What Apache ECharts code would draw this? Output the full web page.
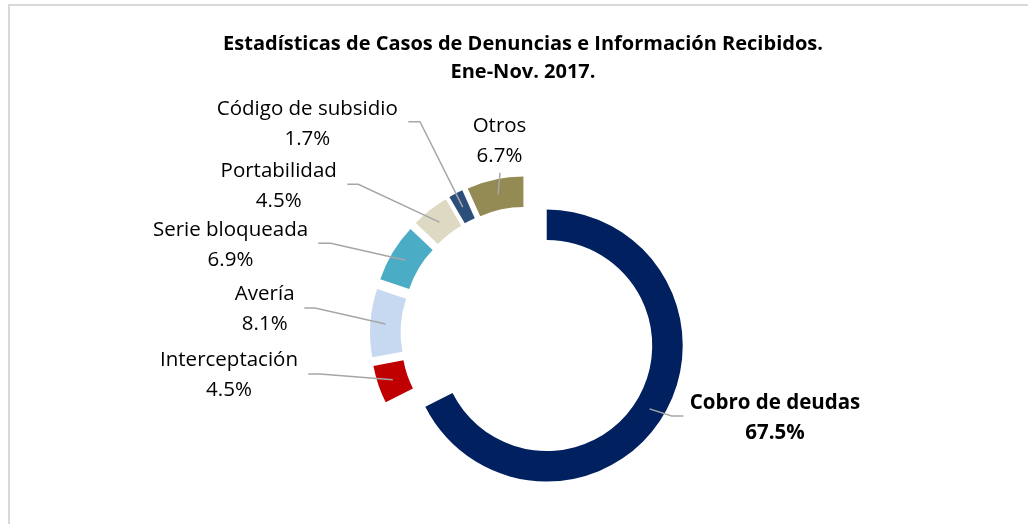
<!DOCTYPE html>
<html>
<head>
<meta charset="utf-8">
<script src="https://cdn.jsdelivr.net/npm/echarts@6/dist/echarts.min.js"></script>
<style>
  html, body { margin: 0; padding: 0; background: #fff; }
  #chart { width: 1028px; height: 524px; }
</style>
</head>
<body>
<div id="chart"></div>
<script>
"use strict";
// data
var categories = ['Cobro de deudas', 'Interceptación', 'Avería', 'Serie bloqueada',
                  'Portabilidad', 'Código de subsidio', 'Otros'];
var shares = [67.5, 4.5, 8.1, 6.9, 4.5, 1.7, 6.7];
var colors = ['#002060', '#C00000', '#C6D9F1', '#4BACC6', '#DDD9C3', '#2C4E7B', '#948A54'];

// ring geometry
var CX = 528, CY = 334, R_IN = 105.5, R_OUT = 136, EXPLODE = 22;

// where each label sits (text centre, bend of the leader, end of the leader)
var labelSpots = [
    [775, 418, 671.7, 416, 683.3],
    [229, 375, 320, 374, 308.3],
    [264.7, 309, 315, 308, 304.3],
    [230.5, 245, 330.7, 243.3, 318.3],
    [278.7, 186, 358.3, 184.3, 347.3],
    [307.3, 124, 420, 121.7, 408.3],
    [499.5, 141, 500, 172.7, 500]
];

var total = shares.reduce(function (a, b) { return a + b; }, 0);

// direction of the bisector of slice i (clockwise from 12 o'clock)
function bisector(i) {
    var before = 0;
    for (var k = 0; k < i; k++) before += shares[k];
    var mid = (before + shares[i] / 2) / total * Math.PI * 2;
    return [Math.sin(mid), -Math.cos(mid)];
}

var chart = echarts.init(document.getElementById('chart'));

// one pie per slice so every slice can be pulled out along its own bisector,
// plus a see-through copy on top that carries the label and leader line
var series = [];
categories.forEach(function (cat, i) {
    var u = bisector(i);
    var cx = CX + EXPLODE * u[0], cy = CY + EXPLODE * u[1];
    var rMid = (R_IN + R_OUT) / 2;
    var start = [cx + rMid * u[0], cy + rMid * u[1]];
    var s = labelSpots[i];
    var base = {
        type: 'pie',
        silent: true,
        center: [cx, cy],
        radius: [R_IN, R_OUT],
        startAngle: 90,
        clockwise: true,
        avoidLabelOverlap: false
    };
    series.push(Object.assign({}, base, {
        z: 2,
        label: { show: false },
        labelLine: { show: false },
        data: categories.map(function (name, j) {
            return {
                name: name,
                value: shares[j],
                itemStyle: { color: j === i ? colors[j] : 'rgba(0,0,0,0)' }
            };
        })
    }));
    series.push(Object.assign({}, base, {
        z: 5,
        label: {
            show: true,
            position: 'outside',
            fontFamily: 'Open Sans',
            fontSize: 20.5,
            lineHeight: 30,
            color: '#000',
            fontWeight: i === 0 ? 'bold' : 'normal',
            formatter: function (p) {
                return p.name + '\n' + p.value.toFixed(1) + '%';
            }
        },
        labelLine: {
            show: true,
            lineStyle: { color: '#A6A6A6', width: 1.5 }
        },
        labelLayout: function () {
            return {
                x: s[0],
                y: s[1],
                align: 'center',
                verticalAlign: 'middle',
                labelLinePoints: [start, [s[2], s[3]], [s[4], s[3]]]
            };
        },
        data: categories.map(function (name, j) {
            var item = { name: name, value: shares[j], itemStyle: { color: 'rgba(0,0,0,0)' } };
            if (j !== i) {
                item.label = { show: false };
                item.labelLine = { show: false };
            }
            return item;
        })
    }));
});

var option = {
    animation: false,
    title: {
        text: 'Estadísticas de Casos de Denuncias e Información Recibidos.\nEne-Nov. 2017.',
        left: 518,
        top: 25,
        textAlign: 'center',
        textStyle: {
            fontFamily: 'Open Sans',
            fontSize: 20,
            fontWeight: 'bold',
            color: '#000',
            lineHeight: 28.5
        }
    },
    graphic: [{
        type: 'rect',
        shape: { x: 9, y: 5, width: 1100, height: 600 },
        style: { fill: 'none', stroke: '#D9D9D9', lineWidth: 2 },
        silent: true
    }],
    series: series
};

chart.setOption(option);
</script>
</body>
</html>
